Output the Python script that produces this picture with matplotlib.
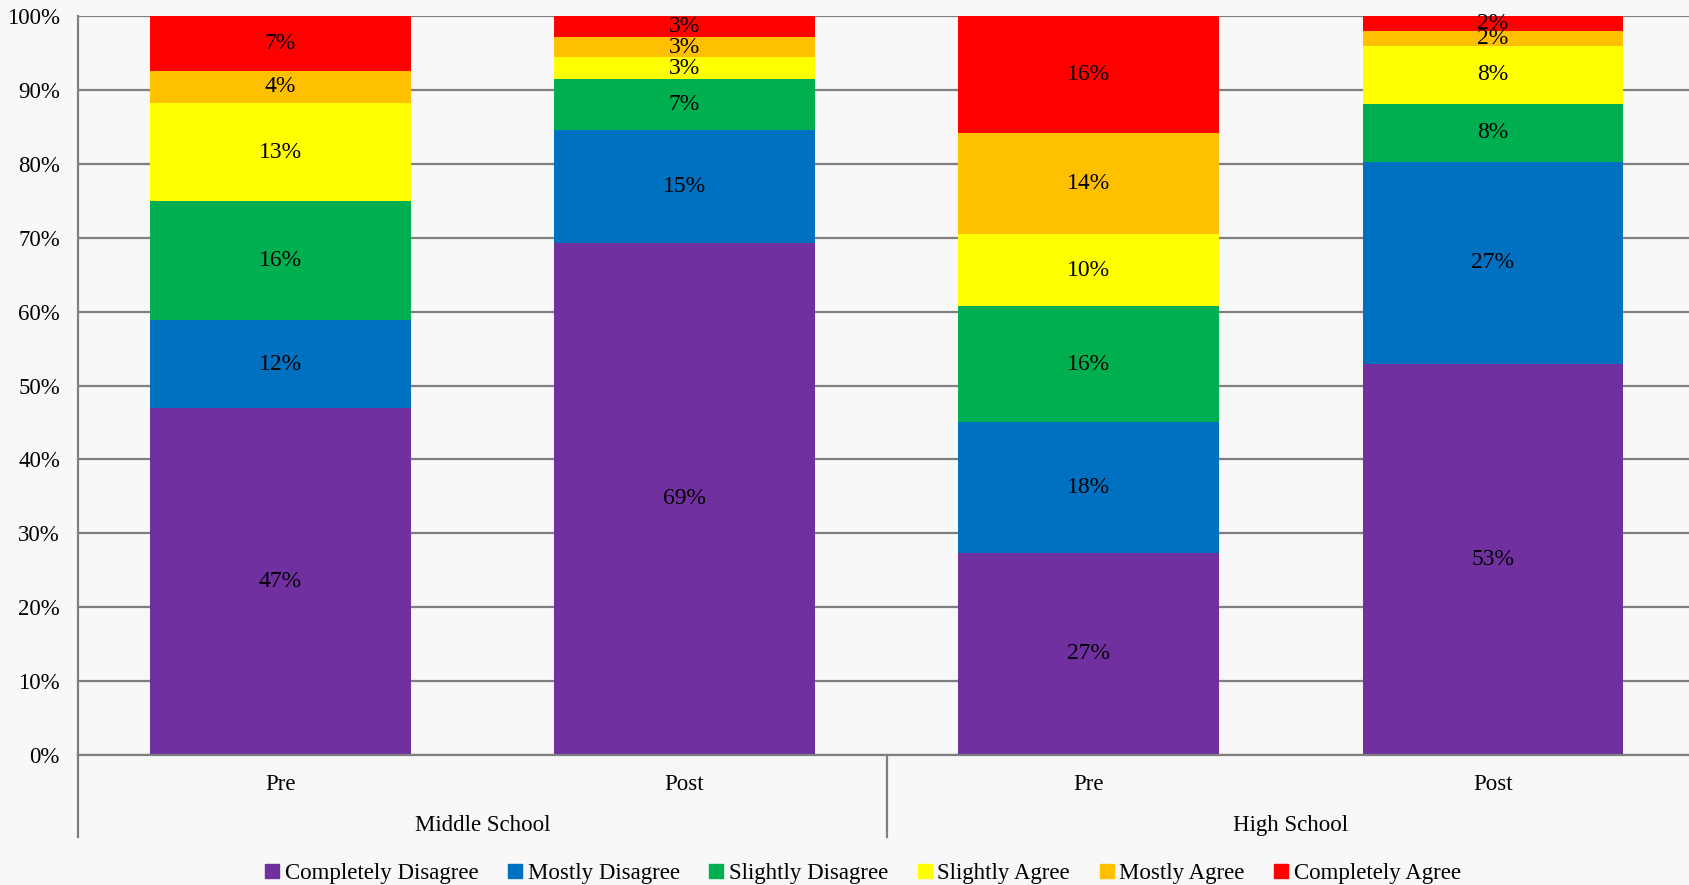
import matplotlib.pyplot as plt
from matplotlib.lines import Line2D

# Data (percent of respondents)
groups = ['Middle School', 'High School']
phases = ['Pre', 'Post', 'Pre', 'Post']
series = ['Completely Disagree', 'Mostly Disagree', 'Slightly Disagree',
          'Slightly Agree', 'Mostly Agree', 'Completely Agree']
completely_disagree = [47.0, 69.3, 27.4, 52.9]
mostly_disagree = [11.8, 15.3, 17.6, 27.4]
slightly_disagree = [16.1, 6.9, 15.7, 7.8]
slightly_agree = [13.3, 2.9, 9.8, 7.9]
mostly_agree = [4.4, 2.8, 13.7, 2.0]
completely_agree = [7.4, 2.8, 15.8, 2.0]
colors = ['#7030A0', '#0070C0', '#00B050', '#FFFF00', '#FFC000', '#FF0000']

values = [completely_disagree, mostly_disagree, slightly_disagree,
          slightly_agree, mostly_agree, completely_agree]

plt.rcParams['font.family'] = ['Liberation Serif', 'DejaVu Serif']
bg = '#f8f8f8'

fig = plt.figure(figsize=(16.9, 8.85), dpi=100, facecolor=bg)
ax = fig.add_axes([78 / 1690, 1 - 755 / 885, 1 - 78 / 1690 + 0.003, (755 - 16) / 885])
ax.set_facecolor(bg)

x = list(range(len(phases)))
bottom = [0] * len(phases)
for name, vals, c in zip(series, values, colors):
    ax.bar(x, vals, width=0.645, bottom=bottom, color=c, label=name, zorder=2)
    for xi, b, v in zip(x, bottom, vals):
        ax.text(xi, b + v / 2, f'{round(v)}%', ha='center', va='center', fontsize=17, zorder=3)
    bottom = [b + v for b, v in zip(bottom, vals)]

ax.set_xlim(-0.5, 3.5)
ax.set_ylim(0, 100)
ax.set_yticks(range(0, 101, 10))
ax.set_yticklabels([f'{t}%' for t in range(0, 101, 10)], fontsize=16.5)
ax.tick_params(axis='y', length=0, pad=13)
ax.set_xticks([])
ax.grid(axis='y', color='#7f7f7f', linewidth=1.6, zorder=0)
for s in ['top', 'right']:
    ax.spines[s].set_visible(False)
for s in ['left', 'bottom']:
    ax.spines[s].set_color('#7f7f7f')
    ax.spines[s].set_linewidth(1.6)

# Two-level category axis
trans = ax.get_xaxis_transform()
for xi, p in zip(x, phases):
    ax.text(xi, -0.04, p, transform=trans, ha='center', va='center', fontsize=16.5)
for gi, g in enumerate(groups):
    ax.text(gi * 2 + 0.5, -0.095, g, transform=trans, ha='center', va='center', fontsize=16.5)
for xd in [-0.5, 1.5, 3.5]:
    ax.add_line(Line2D([xd, xd], [0, -0.111], transform=trans, color='#7f7f7f',
                       linewidth=1.6, clip_on=False))

handles = [Line2D([0], [0], marker='s', linestyle='', markersize=9.5,
                  markerfacecolor=c, markeredgecolor=c, label=n)
           for n, c in zip(series, colors)]
fig.legend(handles=handles, loc='center', bbox_to_anchor=(0.51, 1 - 873 / 885), ncol=6,
           frameon=False, fontsize=16.5, handlelength=0.8, handletextpad=0.15,
           columnspacing=1.2)

fig.savefig('out.png', dpi=100, facecolor=bg)
